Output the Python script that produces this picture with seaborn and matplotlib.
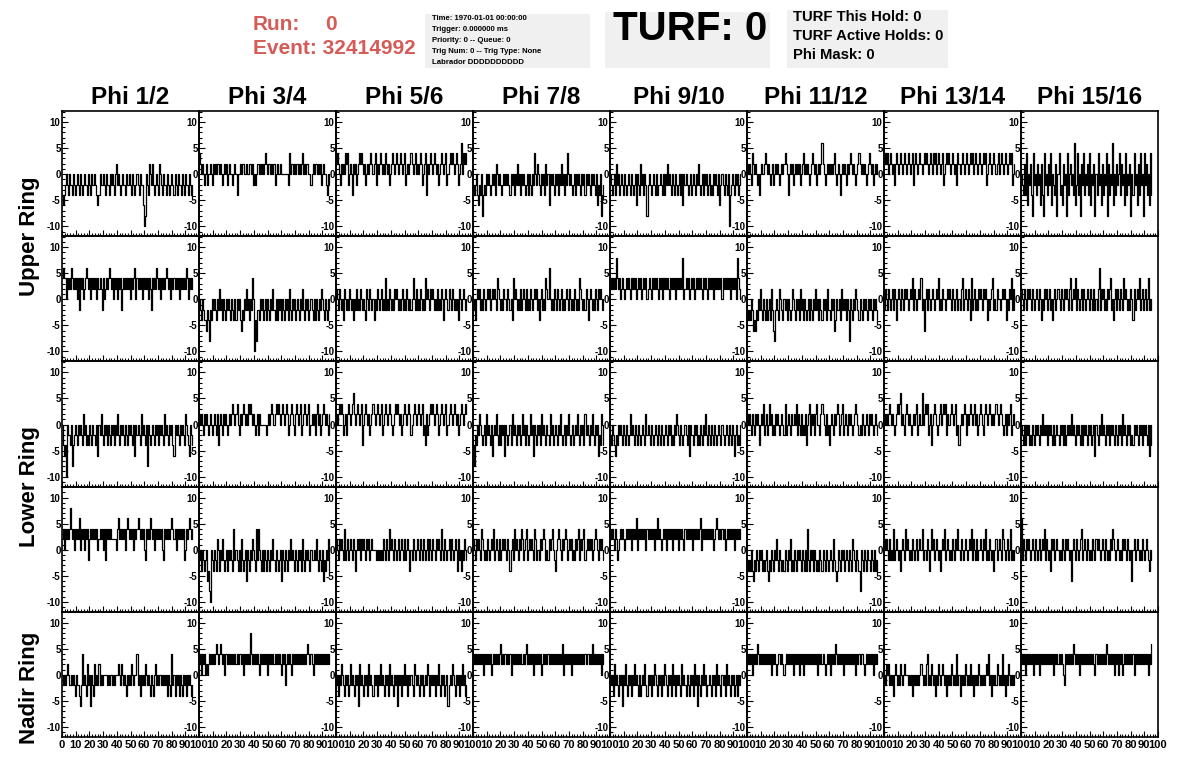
import numpy as np
import pandas as pd
import matplotlib
matplotlib.use("Agg")
import matplotlib.pyplot as plt
from matplotlib.patches import Rectangle
from matplotlib.ticker import MultipleLocator
import seaborn as sns

sns.set_style("white")
plt.rcParams["font.family"] = ["Liberation Sans", "DejaVu Sans"]
plt.rcParams["font.weight"] = "bold"
plt.rcParams["text.color"] = "black"
plt.rcParams["xtick.color"] = "black"
plt.rcParams["ytick.color"] = "black"
plt.rcParams["axes.unicode_minus"] = False

# Waveforms, one string per phi sector.
# Each char is one sample:  0..5 -> 0,2,4,6,8,10   a..e -> -2,-4,-6,-8,-10
LEVELS = {"0": 0, "1": 2, "2": 4, "3": 6, "4": 8, "5": 10,
          "a": -2, "b": -4, "c": -6, "d": -8, "e": -10}
SAMPLE_NS = 0.75

phi_labels = ["Phi 1/2", "Phi 3/4", "Phi 5/6", "Phi 7/8",
              "Phi 9/10", "Phi 11/12", "Phi 13/14", "Phi 15/16"]
ring_labels = ["Upper Ring", "Lower Ring", "Nadir Ring"]

upper_top = [
    "bcba0ab0aab0aba0 ab0aba0aab0ab0aa 0abcb0aa0ab0aab0 a0ab01a0aba0aab0 aa0ab0aba0ab0aac ed0ab10a1aba0ab1 0ab0aab0aba0ab0a b0aab0ab0aab0aba",
    "21010a01a0010a10 1011010a0101a010 0a010b0010110010 01101a0a01101010 1210110101a01001 0000000a20110101 1010120101100a01 0110101a0100ab0a",
    "1210a1010212a010 b101a01212101a01 0121012a10121010 2101a01210121012 1012a01012101201 0121a012b1012101 2101a0121012a012 1210121a01302121",
    "aba0bcab0dbab0a0 aba0a0b10a0aba0a 0a0ab0a0b0a1a0b0 a0aba0b0ab0a20a1 0ab0a0b1a0c0a0ab 0a0b0a1a0b0a20a0 aba0b0a0ab0a0b0a 0ab0a0ab0cab0dba",
    "0aba0b1a0ba0ab0a ba0ab0aba0c0ab1a 0b0ada0aba0ab0ba a0ab0b0a1a0ab0ab 0aba0b0c0a0aba0b a0ab0a1aba0b0a0b a0bab0a0ab0ca0ab 0ab0eba0ab0a0ba0",
    "1010a21010a0b010 0121010a01a01010 a0101210b0101a01 0101a01201010a01 2101a0101310a010 1010120a010b0101 0a10121010a01210 1010a012101a0101",
    "1212012101a12101 2101210121012a12 1012101212101210 2120121012a01212 1012101a21012101 2101212012101210 1212a01210121012 0121012101212a01",
    "0ab1b2c0a1bd2a0b 1a0c1bd2a0b1a2c0 ab1d02bac1a0d2b0 1a0b3ca2b0d1a2b0 a1b2c0a1d0b2a0c1 b0a2d1b0a3c0b1a0 2b1a0c2b0a1d0b2a 0c1b2a0d2a1b0c2b",
]
upper_bottom = [
    "2322021213212120 2a21201232120212 1202121a20121232 1202120212a12121 2120212302121202 1212021a21213212 0212123212021212 1202121213202121",
    "0ab0abbcabdab0a0 ab0a1a0b0ab0a0ab 0ab0b0a0bcab0a1a 0b0a20ebdaab0a0b a0b0ab0a1ab0b0a0 b0ab0a0b1ab0a0ba 0ab0a1ab0a0ba0ab 0b0ab0a10ab0ab0a",
    "10a10a0b10a0a10a 0b0a1a0a10a0ab10 a10a0b0a10a01a0a 2a0a10a0a1010a0a 01a0a10a0a020a1a 0a10a0a2010a1010 a0a1a0a10b010a10 a10a0a0b10a010a0",
    "a0b0101a0a10a010 1a01010a210a0a10 0a10a0b2010a0a1a 010a1a0a10a0101a 0b01a0a21030a0a1 0a10a01a0a010a10 a0a10a0a210a0a10 b010a0a10a1010a0",
    "2121214212012101 2121021212012120 1212012102121210 2120212121021212 0212121401212012 1201212121021210 2121202121212021 2121202121204210",
    "abab0acbcab0a1ab 0ab0ba0b1acda0ab 10ab0a0b0aba10ab 0a0b1a0b0aba0b0a b0a1a0b0ab0a0b1a ab0a0cb0aa0b1a0a 0b0ad0ab0a10ab0a b0a0ab0a0ab0a0ab",
    "a10a10a01a10b010 a10a1010a0102a10 a0102a0c01a10a01 0a0102a0a100a010 10a10a01a0a12a01 0a10b2a01a0a1010 a1010b0a012a0a10 0a01010b0a102a1a",
    "10a10a1010a10a01 0a10b0a101a01a0b 01a010a10a1010a1 2a0102a10a01a10a 010a10a1a0a13a10 1a0a1012a0b01a10 a10a2010a0a10b1a 0102a01a01a02a0a",
]
lower_top = [
    "0bcbe0aab0dba0ab 0a0ab1a0bab0ab0a ab0c0a1ab0a0b0ab 0a0b0a1ab0a0ab0a b0a0ab0c0a0ab1a0 ab0d0aba0ab0a0b0 a0ab1a0ab0a0bc0a 0ab0a0ab10abc0ab",
    "1010a1010a010a01 0a1b010a1010a010 1210120a10121010 2121010a01a10000 00a0101210121210 1210121a01210a12 1012a0121012a010 1a1201a0121010a1",
    "1012121a01a12101 2310121012b01210 1a01210121012a01 2101210a01212101 a01210121a012101 21012a0b1a012121 0121a0121012a012 1012101a01210121",
    "bdab0a10aba0b1a0 ab0ca0a1ab0b0a0c 0aba0b1a0ab0a0ba 1a0b0aba1a0c0ab0 a0b1a0ab0ab1a0ba 0ab0a1aba0b0a1ab a0ba0a1ab0a0b1a0 ab0a1ab0a0cab10b",
    "ab0abcab0a0ab0ab 0aba1a0ab0ab0aba 0ab1a0ab0aba0ab0 ab0aba0ab0a0bab0 a10ab0aba0ab0c0a ab0a0bab0ab0a1ab 0ab0ab0aba0ab0ab a0ab0ab0aca0bab0",
    "1010a10a1010b010 2a01a0201a0a1010 a010a2a010a10010 2a10a1a0a1b012a1 01a1200a1210a1a0 b010a10121a012a0 10a1010a01210a0a 10a010a1010a010a",
    "1010121010a01212 3010a121010a0101 2a010301212a01b0 1210a01201212a10 0121012a0b010121 a1012101201a0121 0a12101210101210 1210a01a1012a010",
    "0ab0b0a0bab0ab0a 0ab0a1a0a0b0a0ab 0ba0ab0a0b0ba0a0 a1a0ab0a0ab0b0a0 ab0a0ba0c0ab0a1a 0ab0a0b0a0ab0ab0 a0b1a0ab0a0bab0a 0ab0a0b0a0ab0c0b",
]
lower_bottom = [
    "1202121242120212 1302120212a12121 2120121202a21212 1111102312121202 3212120212321212 0a21213212021212 120a212121232120 2121212a02123212",
    "a0b0aba0cbde0ab0 ab10b0a1aba0b0a0 ab2a0ab0b1aba0c0 ab0a10ab2a20ab0b 0ab0ab0a1ab0aba0 c0ab0ab0a1a0ab0a b0a0b1ab0a0ab0aa 0a1ab0ab0cab0a1b",
    "10a1010a2a01a010 a10b0101a1010a10 1a01000a0a0a0a10 a10a2010a10a01a0 10a1a010b0a10a01 0a10a10a01a10a10 0a1010a20a10a01a 10a010b1a0b0a10a",
    "10a1010a210a0a10 a0102a010a1a0101 0a10b01a2010a102 1a012a01010a21a0 0a10121a0a10120a b01210a10121a010 1a0a1012a1012a01 0101a01210a1010a",
    "2121021a01212101 2121202121302121 2120212121202131 2101212021212021 2120212102121212 0212121230212121 2121201232121212 0121212120212121",
    "abab0bcab0ab0a0b aba0bcab0ab0a1ab 0abab0ab0a1bab0a b0a0ab0ab0b2ab0a 0b0abab0ab0ab0ab a0ab1abcb0ab0a0b a0ab0ab10ab0abd0 ab0ab0aab0ab0bab",
    "1010a1a0a2a010a0 b010a2010a0a10a0 1a0102a00a10b020 1a010a0b0102a010 a0a10a1020a10a01 0a0102a10a1a0010 a102a0a10a0b01a0 10a210a01a02a0a0",
    "3a10a1010a010a10 a01a0102a10a0b10 1a010a0a10a1010a 0c010a10a012a010 a10a0a10a1010a01 0a10a0a10210a010 a0a1010a10a0c01a 010a0a10a010ab0a",
]
nadir = [
    "0a0a010aa0a0ab0a abca2a0ab1a0c0ab 1a0a1a0a0000a0a0 0a0a00010a10a0ab 0a0a10a002a0b0a0 a10a0ab0ab01a0a0 0a0a0a0b0ab2a0b0 a0b0ab0a0b0a0aba",
    "1202120101212121 2321232120221212 1212121221202121 2142121212102121 2120212121212121 0212a12121021212 1212121212321210 2121212121212121",
    "a0b0a10ab0a0ba1a 0ab0a0c1a0ab0a0b 1a0ab0a0b0a1a0ab 0a0b1a0ab0a0c0a0 b0a1a0b0a0ab10a0 ab0a0ba0a10b0a0a 0b0a1ab0a0ba0ca0 a10ab0a0b0a1a0ba",
    "1212121212021212 1201212121231212 2121202121212121 1212312121202121 2120121212121212 1212121302121212 0212121212121212 2121312121212021",
    "0a0b1a0ab0a0c0a1 ab0a0b0a1a0ab0ba 0a1ab0a0b0a10ab0 a0b0a10ab0a0b1a0 b0a0ab1a0ab0ab0a 0b1a0c0ab0a1a0ba a0ab0a0b1a0ab0a0 b1a0ab0a0ba0b0a0",
    "2121202121321212 1212121202121012 2121012121212021 2120212021212121 2121202121210121 2021213212121202 1212121212021212 2101212121202121",
    "0a101a0a0b010a0a 10a01000a0a0b0a0 a0a010a0a12a0a10 a0b0a10a010a0b0a 0a10a0a2a0b0a0a1 0a0a1a0b0a0a10a0 a0a0102a0b0a0a10 a0a2a0b0a10a0a0a",
    "1212021212120212 1202121212121212 0212121210a21212 1213212120212121 2121212102121212 1213212121202120 2120121212121202 1212121212120213",
]
rows = [upper_top, upper_bottom, lower_top, lower_bottom, nadir]


def decode(trace):
    vals = [LEVELS[ch] for ch in trace.replace(" ", "")]
    return pd.DataFrame({"t": np.arange(len(vals)) * SAMPLE_NS, "adc": vals})


W, H = 1196, 772
fig = plt.figure(figsize=(W / 100, H / 100), dpi=100)

left, right, top, bottom = 62, 1158, 111, 737
cw = (right - left) / 8
rh = (bottom - top) / 5

for r, row in enumerate(rows):
    for c, trace in enumerate(row):
        ax = fig.add_axes([(left + c * cw) / W, 1 - (top + (r + 1) * rh) / H, cw / W, rh / H])
        ax.set_facecolor("none")
        sns.lineplot(data=decode(trace), x="t", y="adc", ax=ax, color="black",
                     linewidth=0.9, estimator=None, drawstyle="steps-mid")
        ax.set_xlim(0, 100)
        ax.set_ylim(-11.9, 12.1)
        ax.set_xlabel("")
        ax.set_ylabel("")
        ax.yaxis.set_major_locator(MultipleLocator(5))
        ax.yaxis.set_minor_locator(MultipleLocator(1))
        ax.xaxis.set_major_locator(MultipleLocator(10))
        ax.xaxis.set_minor_locator(MultipleLocator(2))
        ax.tick_params(which="both", direction="in", top=False, right=False,
                       left=True, bottom=True, width=0.8, color="black")
        ax.tick_params(which="major", length=4)
        ax.tick_params(which="minor", length=2)
        ax.tick_params(axis="y", labelsize=7, pad=1)
        ax.tick_params(axis="x", labelsize=8, pad=2)
        for lab in ax.get_yticklabels() + ax.get_xticklabels():
            lab.set_fontweight("bold")
        for sp in ax.spines.values():
            sp.set_linewidth(1.2)
            sp.set_color("black")
        if r < 4:
            ax.set_xticklabels([])
        else:
            ticks = np.arange(0, 101, 10)
            ax.set_xticks(ticks)
            ax.set_xticklabels([("" if (t == 0 and c > 0) else str(t)) for t in ticks],
                               fontweight="bold")

# column and ring titles
for c, name in enumerate(phi_labels):
    fig.text((left + (c + 0.5) * cw) / W, 1 - 97 / H, name, ha="center", va="center",
             fontsize=17.5, fontweight="bold")
for name, yc in zip(ring_labels, [236, 487, 688]):
    fig.text(30 / W, 1 - yc / H, name, ha="center", va="center", rotation=90,
             fontsize=16, fontweight="bold")

# header
red = "#d65a56"
fig.text(253 / W, 1 - 24 / H, "Run:", color=red, fontsize=15, fontweight="bold", va="center")
fig.text(325 / W, 1 - 24 / H, "0", color=red, fontsize=15, fontweight="bold", va="center")
fig.text(253 / W, 1 - 48 / H, "Event: 32414992", color=red, fontsize=15,
         fontweight="bold", va="center")


def box(x0, y0, x1, y1):
    fig.patches.append(Rectangle((x0 / W, 1 - y1 / H), (x1 - x0) / W, (y1 - y0) / H,
                                 transform=fig.transFigure, facecolor="#f0f0f0",
                                 edgecolor="none", zorder=0))


box(425, 14, 590, 68)
info = ["Time: 1970-01-01 00:00:00", "Trigger: 0.000000 ms", "Priority: 0 -- Queue: 0",
        "Trig Num: 0 -- Trig Type: None", "Labrador DDDDDDDDDD"]
for i, line in enumerate(info):
    fig.text(432 / W, 1 - (19 + i * 10.8) / H, line, fontsize=5.6, fontweight="bold",
             va="center")

box(605, 12, 770, 68)
fig.text(690 / W, 1 - 29 / H, "TURF: 0", fontsize=29, fontweight="bold",
         ha="center", va="center")

box(787, 10, 948, 68)
for i, line in enumerate(["TURF This Hold: 0", "TURF Active Holds: 0", "Phi Mask: 0"]):
    fig.text(793 / W, 1 - (17 + i * 19) / H, line, fontsize=10.7, fontweight="bold", va="center")

fig.savefig("out.png", dpi=100)
